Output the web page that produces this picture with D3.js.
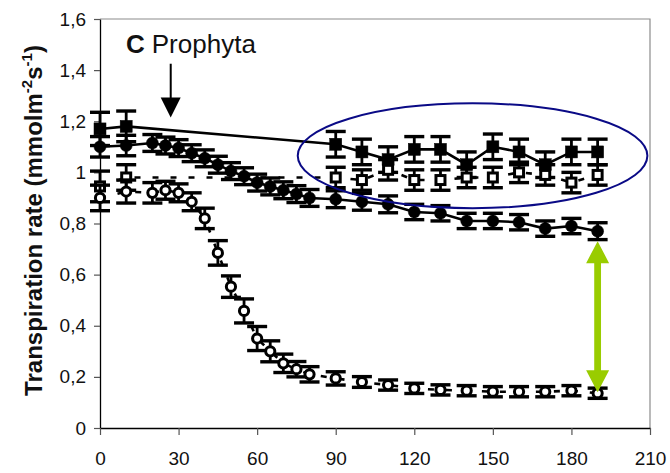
<!DOCTYPE html>
<html>
<head>
<meta charset="utf-8">
<script src="https://cdn.jsdelivr.net/npm/d3@7"></script>
<style>
  html, body { margin: 0; padding: 0; background: #fff; }
  svg { display: block; font-family: "Liberation Sans", Arial, sans-serif; }
</style>
</head>
<body>
<svg id="chart" width="670" height="473"></svg>
<script>
// Sampling times (min)
const squareTimes = [0, 10, 90, 100, 110, 120, 130, 140, 150, 160, 170, 180, 190];
const circleTimes = [0, 10, 20, 25, 30, 35, 40, 45, 50, 55, 60, 65, 70, 75, 80, 90, 100, 110, 120, 130, 140, 150, 160, 170, 180, 190];

// Transpiration rate, mean and error
const filledSquare    = [1.17, 1.18, 1.11, 1.08, 1.05, 1.09, 1.09, 1.03, 1.10, 1.08, 1.03, 1.08, 1.08];
const filledSquareErr = [0.065, 0.06, 0.05, 0.05, 0.05, 0.05, 0.05, 0.05, 0.05, 0.05, 0.05, 0.05, 0.05];
const openSquare      = [0.945, 0.98, 0.98, 0.97, 1.01, 0.97, 0.97, 0.98, 0.98, 1.00, 0.99, 0.96, 0.99];
const openSquareErr   = [0.06, 0.05, 0.04, 0.04, 0.04, 0.04, 0.04, 0.04, 0.04, 0.04, 0.04, 0.04, 0.04];
const filledCircle    = [1.10, 1.105, 1.115, 1.105, 1.095, 1.075, 1.055, 1.03, 1.005, 0.985, 0.96, 0.945, 0.93, 0.915, 0.90,
                         0.895, 0.885, 0.875, 0.845, 0.84, 0.81, 0.81, 0.805, 0.78, 0.79, 0.77];
const filledCircleErr = [0.04, 0.04, 0.033, 0.033, 0.033, 0.033, 0.033, 0.033, 0.033, 0.033, 0.033, 0.033, 0.033, 0.033, 0.033,
                         0.033, 0.033, 0.033, 0.03, 0.03, 0.03, 0.03, 0.03, 0.03, 0.03, 0.033];
const openCircle      = [0.90, 0.925, 0.92, 0.93, 0.92, 0.885, 0.82, 0.685, 0.553, 0.458, 0.35, 0.30, 0.253, 0.23, 0.21,
                         0.194, 0.18, 0.168, 0.155, 0.149, 0.146, 0.142, 0.142, 0.142, 0.146, 0.136];
const openCircleErr   = [0.05, 0.045, 0.04, 0.035, 0.035, 0.035, 0.04, 0.048, 0.042, 0.047, 0.047, 0.041, 0.036, 0.03, 0.03,
                         0.026, 0.021, 0.02, 0.02, 0.02, 0.02, 0.02, 0.02, 0.02, 0.02, 0.02];

// Axis ticks
const xTicks = [0, 30, 60, 90, 120, 150, 180, 210];
const yTicks = [0, 0.2, 0.4, 0.6, 0.8, 1, 1.2, 1.4, 1.6];
const yTickLabels = ["0", "0,2", "0,4", "0,6", "0,8", "1", "1,2", "1,4", "1,6"];

// Annotations
const panelLetter = "C";
const panelName = "Prophyta";
const arrowTime = 27;          // treatment onset marker
const arrowTop = 1.425, arrowBottom = 1.215;
const gapTime = 190;           // difference highlighted between the two circle series

const svg = d3.select("#chart");
const x = d3.scaleLinear().domain([0, 210]).range([100, 650]);
const y = d3.scaleLinear().domain([0, 1.6]).range([428, 19]);

// Plot frame (top and right)
svg.append("path")
  .attr("d", `M${x(0)},${y(1.6)}H${x(210)}V${y(0)}`)
  .attr("fill", "none").attr("stroke", "#8c8c8c").attr("stroke-width", 1.2);

// Axes
const yAxis = svg.append("g").attr("transform", `translate(${x(0)},0)`)
  .call(d3.axisLeft(y).tickValues(yTicks).tickSize(6).tickSizeOuter(0)
    .tickFormat((d, i) => yTickLabels[i]).tickPadding(8));
const xAxis = svg.append("g").attr("transform", `translate(0,${y(0)})`)
  .call(d3.axisBottom(x).tickValues(xTicks).tickSize(7).tickSizeOuter(0).tickPadding(17));
[yAxis, xAxis].forEach(g => {
  g.select(".domain").attr("stroke", "#000").attr("stroke-width", 1.3);
  g.selectAll(".tick line").attr("stroke", "#555").attr("stroke-width", 1.2);
  g.selectAll(".tick text").attr("font-size", 19).attr("fill", "#111")
    .attr("font-family", "'Liberation Sans', Arial, sans-serif");
});

// Y axis title with superscripts
const yTitle = svg.append("text")
  .attr("transform", `translate(42,${(y(0) + y(1.6)) / 2 - 3}) rotate(-90)`)
  .attr("text-anchor", "middle")
  .attr("font-size", 24).attr("font-weight", "bold").attr("fill", "#111");
yTitle.append("tspan").text("Transpiration rate (mmolm");
yTitle.append("tspan").attr("font-size", 15).attr("dy", -10).text("-2");
yTitle.append("tspan").attr("dy", 10).text("s");
yTitle.append("tspan").attr("font-size", 15).attr("dy", -10).text("-1");
yTitle.append("tspan").attr("dy", 10).text(")");

function drawSeries(times, values, errs, opts) {
  const pts = times.map((t, i) => ({ t, v: values[i], e: errs[i] }));
  const g = svg.append("g");
  g.append("path")
    .datum(pts)
    .attr("d", d3.line().x(d => x(d.t)).y(d => y(d.v)))
    .attr("fill", "none").attr("stroke", "#000").attr("stroke-width", 2.6)
    .attr("stroke-dasharray", opts.dashed ? "6,12" : null);
  const eb = g.selectAll(".err").data(pts).join("g");
  eb.append("line")
    .attr("x1", d => x(d.t)).attr("x2", d => x(d.t))
    .attr("y1", d => y(d.v - d.e)).attr("y2", d => y(d.v + d.e))
    .attr("stroke", "#000").attr("stroke-width", 2.8);
  [-1, 1].forEach(s => {
    eb.append("line")
      .attr("x1", d => x(d.t) - 10).attr("x2", d => x(d.t) + 10)
      .attr("y1", d => y(d.v + s * d.e)).attr("y2", d => y(d.v + s * d.e))
      .attr("stroke", "#000").attr("stroke-width", 3.4);
  });
  const m = g.selectAll(".mk").data(pts).join(opts.shape === "square" ? "rect" : "circle");
  if (opts.shape === "square") {
    const s = opts.filled ? 12 : 9;
    m.attr("x", d => x(d.t) - s / 2).attr("y", d => y(d.v) - s / 2)
      .attr("width", s).attr("height", s);
  } else {
    m.attr("cx", d => x(d.t)).attr("cy", d => y(d.v)).attr("r", opts.filled ? 6 : 4.6);
  }
  m.attr("fill", opts.filled ? "#000" : "#fff")
    .attr("stroke", "#000").attr("stroke-width", opts.filled ? 0.5 : 3);
}

drawSeries(squareTimes, filledSquare, filledSquareErr, { shape: "square", filled: true, dashed: false });
drawSeries(squareTimes, openSquare, openSquareErr, { shape: "square", filled: false, dashed: true });
drawSeries(circleTimes, filledCircle, filledCircleErr, { shape: "circle", filled: true, dashed: false });
drawSeries(circleTimes, openCircle, openCircleErr, { shape: "circle", filled: false, dashed: true });

// Ellipse around the late square readings
svg.append("ellipse")
  .attr("cx", (x(75.5) + x(209)) / 2).attr("cy", (y(1.27) + y(0.86)) / 2)
  .attr("rx", (x(209) - x(75.5)) / 2).attr("ry", (y(0.86) - y(1.27)) / 2)
  .attr("fill", "none").attr("stroke", "#0a0a86").attr("stroke-width", 2);

// Panel title
const title = svg.append("text").attr("x", 126).attr("y", 53).attr("font-size", 26).attr("fill", "#111");
title.append("tspan").attr("font-weight", "bold").text(panelLetter);
title.append("tspan").attr("dx", 7).text(panelName);

// Onset arrow
const ax = x(arrowTime);
svg.append("line").attr("x1", ax).attr("x2", ax)
  .attr("y1", y(arrowTop)).attr("y2", y(arrowBottom) - 18)
  .attr("stroke", "#000").attr("stroke-width", 2);
svg.append("path")
  .attr("d", `M${ax - 10},${y(arrowBottom) - 20}L${ax + 10},${y(arrowBottom) - 20}L${ax},${y(arrowBottom)}Z`)
  .attr("fill", "#000");

// Double-headed arrow between the circle series at the last time point
const gx = x(gapTime);
const gTop = y(filledCircle[filledCircle.length - 1]) + 10;
const gBot = y(openCircle[openCircle.length - 1]) - 1;
const head = 22, hw = 11.5, sw = 3.4;
svg.append("path")
  .attr("d", `M${gx},${gTop}L${gx + hw},${gTop + head}L${gx + sw},${gTop + head}L${gx + sw},${gBot - head}` +
             `L${gx + hw},${gBot - head}L${gx},${gBot}L${gx - hw},${gBot - head}L${gx - sw},${gBot - head}` +
             `L${gx - sw},${gTop + head}L${gx - hw},${gTop + head}Z`)
  .attr("fill", "#99cc00");
</script>
</body>
</html>
